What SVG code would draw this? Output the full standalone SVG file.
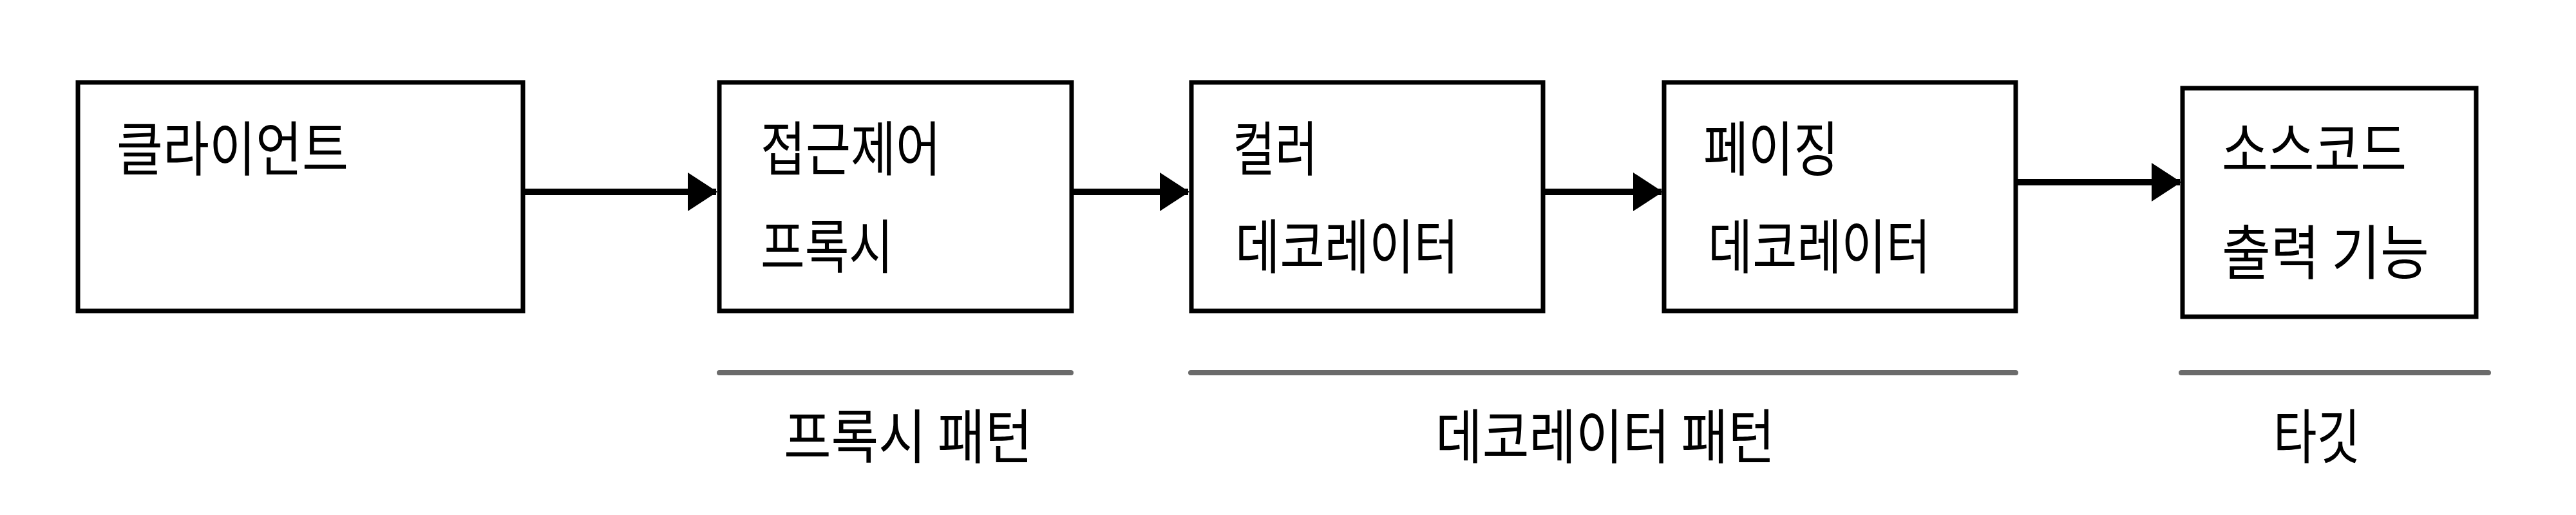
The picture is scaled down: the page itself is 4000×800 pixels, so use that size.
<svg xmlns="http://www.w3.org/2000/svg" width="4000" height="800" viewBox="0 0 4000 800">
<style>
.box{fill:#fff;stroke:#000;stroke-width:7}
.t{font-family:"Noto Sans CJK KR","Noto Sans",sans-serif;font-size:92px;fill:#000}
.conn{stroke:#000;stroke-width:10;fill:none}
.bar{stroke:#6b6b6b;stroke-width:8;stroke-linecap:round}
</style>
<defs>
<marker id="ah" viewBox="0 0 46 60" refX="44" refY="30" markerWidth="46" markerHeight="60" markerUnits="userSpaceOnUse" orient="auto">
<path d="M0,0 L46,30 L0,60 Z" fill="#000"/>
</marker>
</defs>
<rect width="4000" height="800" fill="#fff"/>
<g id="connectors">
<line class="conn" x1="812" y1="298" x2="1112" y2="298" marker-end="url(#ah)"/>
<line class="conn" x1="1664" y1="298" x2="1845" y2="298" marker-end="url(#ah)"/>
<line class="conn" x1="2396" y1="298" x2="2580" y2="298" marker-end="url(#ah)"/>
<line class="conn" x1="3130" y1="283" x2="3385" y2="283" marker-end="url(#ah)"/>
</g>
<g id="client">
<rect class="box" x="121" y="128" width="691" height="355"/>
<text class="t" x="181" y="265" textLength="360" lengthAdjust="spacingAndGlyphs">클라이언트</text>
</g>
<g id="proxy">
<rect class="box" x="1117" y="128" width="547" height="355"/>
<text class="t" x="1181" y="265" textLength="280" lengthAdjust="spacingAndGlyphs">접근제어</text>
<text class="t" x="1181" y="417" textLength="206" lengthAdjust="spacingAndGlyphs">프록시</text>
</g>
<g id="color-decorator">
<rect class="box" x="1850" y="128" width="546" height="355"/>
<text class="t" x="1914" y="265" textLength="132" lengthAdjust="spacingAndGlyphs">컬러</text>
<text class="t" x="1918" y="417" textLength="347" lengthAdjust="spacingAndGlyphs">데코레이터</text>
</g>
<g id="paging-decorator">
<rect class="box" x="2584" y="128" width="546" height="355"/>
<text class="t" x="2645" y="265" textLength="210" lengthAdjust="spacingAndGlyphs">페이징</text>
<text class="t" x="2652" y="417" textLength="346" lengthAdjust="spacingAndGlyphs">데코레이터</text>
</g>
<g id="target">
<rect class="box" x="3389" y="137" width="456" height="355"/>
<text class="t" x="3450" y="266" textLength="287" lengthAdjust="spacingAndGlyphs">소스코드</text>
<text class="t" x="3450" y="426" textLength="322" lengthAdjust="spacingAndGlyphs">출력 기능</text>
</g>
<g id="group-labels">
<line class="bar" x1="1117" y1="579" x2="1663" y2="579"/>
<line class="bar" x1="1849" y1="579" x2="3130" y2="579"/>
<line class="bar" x1="3387" y1="579" x2="3864" y2="579"/>
<text class="t" x="1217" y="712" textLength="386" lengthAdjust="spacingAndGlyphs">프록시 패턴</text>
<text class="t" x="2229" y="712" textLength="527" lengthAdjust="spacingAndGlyphs">데코레이터 패턴</text>
<text class="t" x="3530" y="712" textLength="135" lengthAdjust="spacingAndGlyphs">타깃</text>
</g>
</svg>
